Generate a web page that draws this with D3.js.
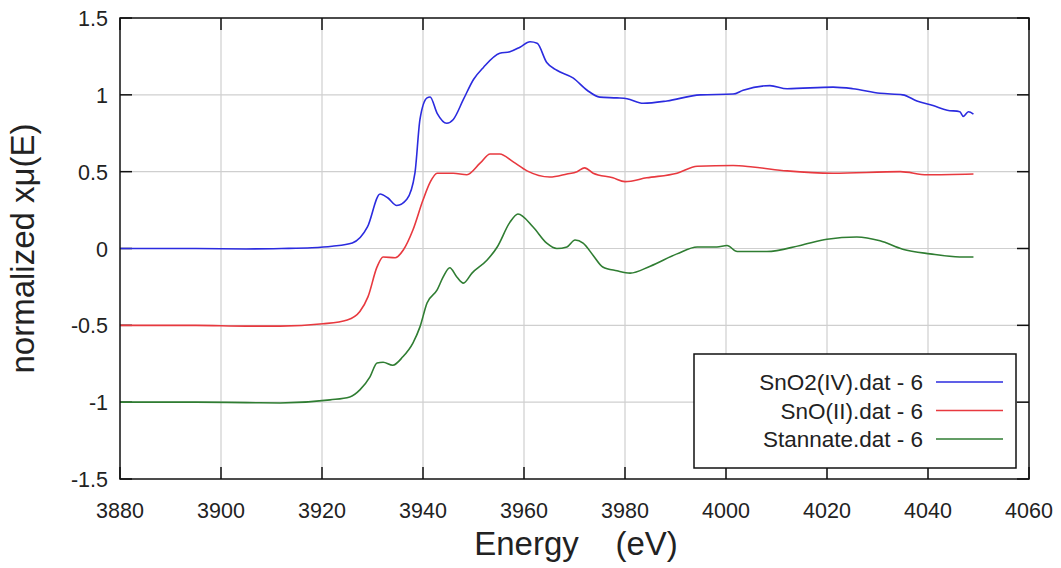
<!DOCTYPE html>
<html>
<head>
<meta charset="utf-8">
<script src="https://cdn.jsdelivr.net/npm/d3@7.9.0/dist/d3.min.js"></script>
<style>
  body { margin: 0; background: #fff; }
  svg text { font-family: "Liberation Sans", Arial, sans-serif; fill: #222; }
</style>
</head>
<body>
<svg id="chart" width="1061" height="568"></svg>
<script>
// x ticks and y ticks
const xTicks = [3880, 3900, 3920, 3940, 3960, 3980, 4000, 4020, 4040, 4060];
const yTicks = [-1.5, -1, -0.5, 0, 0.5, 1, 1.5];

// SnO2(IV) - blue
const snO2E = [3880, 3895, 3905, 3912, 3918, 3922, 3926, 3929, 3931.5, 3933, 3934.8, 3936.8, 3938.4, 3939.4, 3940.8, 3941.4,
  3942.8, 3944.7, 3946, 3948, 3950, 3952, 3955.2, 3957.2, 3959.2, 3961.2, 3962.6, 3964.5, 3966.5, 3969.7, 3972.5, 3975,
  3978.4, 3980.4, 3983.6, 3988.3, 3994.9, 4001.4, 4003.4, 4008.7, 4012.1, 4021.2, 4025.1, 4030.5, 4035, 4037.8, 4041,
  4043.8, 4046.3, 4047, 4048, 4049];
const snO2V = [0, 0, -0.003, 0, 0.005, 0.015, 0.036, 0.14, 0.355, 0.33, 0.28, 0.32, 0.49, 0.84, 0.98, 0.986,
  0.88, 0.815, 0.84, 0.97, 1.1, 1.18, 1.27, 1.28, 1.31, 1.345, 1.335, 1.21, 1.16, 1.11, 1.03, 0.985,
  0.98, 0.975, 0.945, 0.96, 1.0, 1.005, 1.03, 1.06, 1.04, 1.05, 1.04, 1.01, 1.0, 0.96, 0.93,
  0.9, 0.89, 0.86, 0.89, 0.875];

// SnO(II) - red
const snOE = [3880, 3895, 3905, 3911.7, 3920.2, 3925, 3927.5, 3929.1, 3930.9, 3932.1, 3934.5, 3936.1, 3938, 3940, 3941.4,
  3942.8, 3946, 3948.7, 3951.3, 3953.3, 3955.2, 3957.8, 3960.6, 3965.1, 3968.5, 3970.5, 3972, 3973.7, 3977.6, 3980,
  3984.3, 3990.3, 3994.3, 4001.4, 4005.3, 4012.1, 4021.2, 4034.5, 4039.8, 4049];
const snOV = [-0.5, -0.5, -0.505, -0.505, -0.49, -0.465, -0.41, -0.315, -0.12, -0.055, -0.06, -0.01, 0.12, 0.315, 0.43,
  0.49, 0.49, 0.48, 0.555, 0.615, 0.615, 0.565, 0.505, 0.465, 0.485, 0.5, 0.525, 0.49, 0.46, 0.435,
  0.46, 0.49, 0.535, 0.54, 0.53, 0.505, 0.49, 0.5, 0.48, 0.485];

// Stannate - green
const stanE = [3880, 3895, 3905, 3911.7, 3921.6, 3925.5, 3927.5, 3929.5, 3930.9, 3932.1, 3934, 3936, 3938, 3939.4, 3940.8,
  3942.8, 3944, 3945.3, 3946.7, 3948, 3949.7, 3952.7, 3954.7, 3957.2, 3958.8, 3961.8, 3964.5, 3966.5, 3968.5, 3970.1,
  3971.7, 3973.7, 3975.6, 3978.4, 3981, 3985, 3990.3, 3994.3, 3998.2, 4000.2, 4002.2, 4008.1, 4014.7, 4020, 4025.9,
  4030.5, 4035, 4040.4, 4046.3, 4049];
const stanV = [-1, -1, -1.003, -1.005, -0.985, -0.966, -0.92, -0.835, -0.745, -0.74, -0.76, -0.705, -0.615, -0.51, -0.355,
  -0.27, -0.185, -0.125, -0.185, -0.225, -0.16, -0.075, 0.01, 0.17, 0.225, 0.14, 0.035, 0.0, 0.01, 0.055,
  0.035, -0.045, -0.12, -0.145, -0.16, -0.115, -0.035, 0.01, 0.01, 0.02, -0.02, -0.02, 0.02, 0.06, 0.075,
  0.05, -0.005, -0.035, -0.055, -0.055];

const seriesNames = ["SnO2(IV).dat - 6", "SnO(II).dat - 6", "Stannate.dat - 6"];
const seriesColors = ["#2b2bdf", "#e8393f", "#2f7d32"];
const seriesData = [[snO2E, snO2V], [snOE, snOV], [stanE, stanV]];

const margin = {left: 120, top: 18, right: 32, bottom: 89};
const W = 1061, H = 568;
const svg = d3.select("#chart");

const x = d3.scaleLinear().domain([3880, 4060]).range([margin.left, W - margin.right]);
const y = d3.scaleLinear().domain([-1.5, 1.5]).range([H - margin.bottom, margin.top]);

// grid
svg.append("g").selectAll("line").data(xTicks.slice(1, -1)).join("line")
  .attr("x1", d => x(d)).attr("x2", d => x(d))
  .attr("y1", y(1.5)).attr("y2", y(-1.5))
  .attr("stroke", "#cfcfcf").attr("stroke-width", 1.2);
svg.append("g").selectAll("line").data(yTicks.slice(1, -1)).join("line")
  .attr("y1", d => y(d)).attr("y2", d => y(d))
  .attr("x1", x(3880)).attr("x2", x(4060))
  .attr("stroke", "#cfcfcf").attr("stroke-width", 1.2);

// inward ticks on all four sides
const tk = 12;
const tickG = svg.append("g").attr("stroke", "#111").attr("stroke-width", 1.5);
xTicks.forEach(t => {
  tickG.append("line").attr("x1", x(t)).attr("x2", x(t)).attr("y1", y(-1.5)).attr("y2", y(-1.5) - tk);
  tickG.append("line").attr("x1", x(t)).attr("x2", x(t)).attr("y1", y(1.5)).attr("y2", y(1.5) + tk);
});
yTicks.forEach(t => {
  tickG.append("line").attr("x1", x(3880)).attr("x2", x(3880) + tk).attr("y1", y(t)).attr("y2", y(t));
  tickG.append("line").attr("x1", x(4060)).attr("x2", x(4060) - tk).attr("y1", y(t)).attr("y2", y(t));
});

// tick labels
svg.append("g").selectAll("text").data(xTicks).join("text")
  .attr("x", d => x(d)).attr("y", y(-1.5) + 39)
  .attr("text-anchor", "middle").attr("font-size", 21.5)
  .text(d => d);
svg.append("g").selectAll("text").data(yTicks).join("text")
  .attr("x", x(3880) - 12).attr("y", d => y(d) + 8)
  .attr("text-anchor", "end").attr("font-size", 21.5)
  .text(d => d);

// lines
const line = d3.line().x(d => x(d[0])).y(d => y(d[1])).curve(d3.curveMonotoneX);
seriesData.forEach(([es, vs], i) => {
  svg.append("path")
    .datum(es.map((e, j) => [e, vs[j]]))
    .attr("fill", "none")
    .attr("stroke", seriesColors[i])
    .attr("stroke-width", 1.6)
    .attr("d", line);
});

// frame
svg.append("rect")
  .attr("x", x(3880)).attr("y", y(1.5))
  .attr("width", x(4060) - x(3880)).attr("height", y(-1.5) - y(1.5))
  .attr("fill", "none").attr("stroke", "#111").attr("stroke-width", 1.5);

// legend
const lg = svg.append("g");
lg.append("rect").attr("x", 694).attr("y", 354).attr("width", 322).attr("height", 114)
  .attr("fill", "#fff").attr("stroke", "#111").attr("stroke-width", 1.5);
seriesNames.forEach((n, i) => {
  const yy = 382 + i * 28.5;
  lg.append("text").attr("x", 923).attr("y", yy + 8).attr("text-anchor", "end")
    .attr("font-size", 22.5).text(n);
  lg.append("line").attr("x1", 936).attr("x2", 1003).attr("y1", yy).attr("y2", yy)
    .attr("stroke", seriesColors[i]).attr("stroke-width", 1.6);
});

// axis titles
svg.append("text").attr("x", 576).attr("y", 555).attr("text-anchor", "middle")
  .attr("font-size", 33).attr("xml:space", "preserve").text("Energy    (eV)");
svg.append("text").attr("transform", `translate(34, ${y(0)}) rotate(-90)`)
  .attr("text-anchor", "middle").attr("font-size", 33).text("normalized xμ(E)");
</script>
</body>
</html>
